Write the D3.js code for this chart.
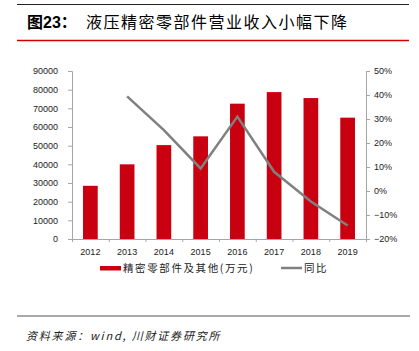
<!DOCTYPE html>
<html><head><meta charset="utf-8">
<script src="https://cdn.jsdelivr.net/npm/d3@7"></script>
<style>
body{margin:0;background:#fff;}
svg{display:block;}
</style></head>
<body>
<svg id="c" width="419" height="351"></svg>
<script>
const years = ["2012","2013","2014","2015","2016","2017","2018","2019"];
const revenue = [28500, 40000, 50300, 55000, 72500, 78700, 75500, 65000];
const yoy = [null, 39.4, 25.4, 9.4, 31.0, 8.0, -4.4, -14.4];
const leftTicks = [0,10000,20000,30000,40000,50000,60000,70000,80000,90000];
const rightTicks = [-20,-10,0,10,20,30,40,50];
const titleText = "液压精密零部件营业收入小幅下降";
const legendLabels = ["精密零部件及其他(万元)", "同比"];
const sourceText = "资料来源：wind, 川财证券研究所";

const svg = d3.select("#c");
const red = "#C9000F", gray = "#808080", axisCol = "#A6A6A6";
const L = 72, R = 366, T = 71, B = 239;
const cjk = "'Noto Sans CJK SC', sans-serif";
const latin = "'Liberation Sans', Arial, sans-serif";

// header lines
svg.append("line").attr("x1",17).attr("x2",409).attr("y1",4.5).attr("y2",4.5).attr("stroke","#222").attr("stroke-width",1.2);
svg.append("line").attr("x1",17).attr("x2",409).attr("y1",40.5).attr("y2",40.5).attr("stroke","#d00000").attr("stroke-width",1.5);
svg.append("line").attr("x1",17).attr("x2",410).attr("y1",316).attr("y2",316).attr("stroke","#555").attr("stroke-width",1.2);

// title
const t = svg.append("text").attr("x",27).attr("y",28).attr("fill","#000");
t.append("tspan").text("图").attr("font-family",cjk).attr("font-weight","bold").attr("font-size",16);
t.append("tspan").text("23").attr("font-family",latin).attr("font-weight","bold").attr("font-size",16);
t.append("tspan").text("：").attr("font-family",cjk).attr("font-weight","bold").attr("font-size",16);
svg.append("text").attr("x",86).attr("y",28).attr("font-family",cjk).attr("font-size",16)
  .attr("letter-spacing",1.5).attr("fill","#000").text(titleText);

// scales
const x = d3.scaleBand().domain(years).range([L,R]).paddingInner(0.6).paddingOuter(0.3);
const yL = d3.scaleLinear().domain([0,90000]).range([B,T]);
const yR = d3.scaleLinear().domain([-20,50]).range([B,T]);

// bars
svg.append("g").selectAll("rect").data(years).join("rect")
  .attr("x",d=>x(d)).attr("width",x.bandwidth())
  .attr("y",(d,i)=>yL(revenue[i])).attr("height",(d,i)=>B-yL(revenue[i]))
  .attr("fill",red);

// left axis
const gL = svg.append("g").attr("transform",`translate(${L},0)`)
  .call(d3.axisLeft(yL).tickValues(leftTicks).tickSize(4).tickPadding(10).tickFormat(d3.format("d")));
// right axis
const gR = svg.append("g").attr("transform",`translate(${R},0)`)
  .call(d3.axisRight(yR).tickValues(rightTicks).tickSize(4).tickPadding(4).tickFormat(d=>d+"%"));
// x axis
const xb = d3.scaleLinear().domain([0,8]).range([L,R]);
const gX = svg.append("g").attr("transform",`translate(0,${B})`)
  .call(d3.axisBottom(xb).ticks(8).tickSize(3).tickFormat(""));
svg.append("g").selectAll("text").data(years).join("text")
  .attr("x",d=>x(d)+x.bandwidth()/2).attr("y",255).attr("text-anchor","middle")
  .attr("font-family",latin).attr("font-size",9).attr("fill","#222").text(d=>d);

[gL,gR,gX].forEach(g=>{
  g.select(".domain").attr("stroke",axisCol);
  g.selectAll(".tick line").attr("stroke",axisCol);
  g.selectAll("text").attr("font-family",latin).attr("font-size",9).attr("fill","#222");
});
gR.selectAll("text").text(d=>(d<0?"\u2212"+(-d):d)+"%");

// line
const pts = years.map((d,i)=>[x(d)+x.bandwidth()/2, yoy[i]]).filter(p=>p[1]!==null);
svg.append("path").datum(pts)
  .attr("d",d3.line().x(p=>p[0]).y(p=>yR(p[1])))
  .attr("fill","none").attr("stroke",gray).attr("stroke-width",2.5);

// legend
svg.append("rect").attr("x",100).attr("y",266).attr("width",21).attr("height",4.5).attr("fill",red);
svg.append("text").attr("x",123).attr("y",272).attr("font-family",cjk).attr("font-size",10.5)
  .attr("letter-spacing",1.6).attr("fill","#222").text(legendLabels[0]);
svg.append("line").attr("x1",281).attr("x2",302).attr("y1",268).attr("y2",268).attr("stroke",gray).attr("stroke-width",2.5);
svg.append("text").attr("x",304).attr("y",272).attr("font-family",cjk).attr("font-size",10.5)
  .attr("letter-spacing",1.6).attr("fill","#222").text(legendLabels[1]);

// source
svg.append("text").attr("x",26).attr("y",340).attr("font-family",cjk).attr("font-size",11)
  .attr("font-style","italic").attr("letter-spacing",1.8).attr("fill","#222").text(sourceText);
</script>
</body></html>
